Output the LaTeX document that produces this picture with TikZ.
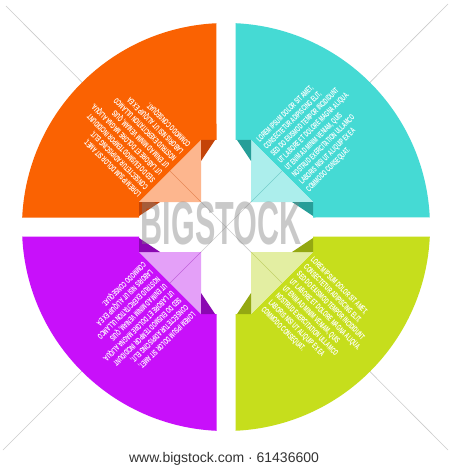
\documentclass[tikz,border=0pt]{standalone}
\usepackage{fontspec}
\setmainfont{Liberation Sans}
\newfontfamily\condfont[FakeStretch=0.58]{Liberation Sans}
\newfontfamily\markfont[FakeStretch=0.5]{Liberation Sans}
\usepackage{tikz}
\definecolor[named]{myColorOrange}{RGB}{250,98,2}
\definecolor[named]{myColorOrangeLight}{RGB}{253,182,142}
\definecolor[named]{myColorOrangeDark}{RGB}{196,68,8}
\definecolor[named]{myColorTeal}{RGB}{69,218,212}
\definecolor[named]{myColorTealLight}{RGB}{172,238,236}
\definecolor[named]{myColorTealDark}{RGB}{38,158,152}
\definecolor[named]{myColorPurple}{RGB}{200,16,250}
\definecolor[named]{myColorPurpleLight}{RGB}{228,160,248}
\definecolor[named]{myColorPurpleDark}{RGB}{138,8,178}
\definecolor[named]{myColorLime}{RGB}{198,222,28}
\definecolor[named]{myColorLimeLight}{RGB}{227,238,162}
\definecolor[named]{myColorLimeDark}{RGB}{148,168,18}
\newcommand{\loremlines}{LOREM IPSUM DOLOR SIT AMET,\\CONSECTETUR ADIPISCING ELIT,\\SED DO EIUSMOD TEMPOR INCIDIDUNT\\UT LABORE ET DOLORE MAGNA ALIQUA.\\UT ENIM AD MINIM VENIAM, QUIS\\NOSTRUD EXERCITATION ULLAMCO\\LABORIS NISI UT ALIQUIP EX EA\\COMMODO CONSEQUAT.}

\begin{document}
\begin{tikzpicture}
[%
    x=1pt,y=-1pt,
    lorem/.style={
      text=white,
      font=\condfont\bfseries\fontsize{8.2}{10}\selectfont,
      align=left,
      inner sep=0pt,
      anchor=west
    },
    crease/.style={
      line width=0.5pt,
      opacity=0.4
    },
    wmline/.style={
      black!20,
      line width=0.6pt
    },
    wmtext/.style={
      text=black!50,
      text opacity=0.42,
      font=\markfont\bfseries\fontsize{61}{61}\selectfont,
      inner sep=0pt
    }
  ]
  \fill[white] (0,0) rectangle (450,470);
  \useasboundingbox (0,0) rectangle (450,470);

  %Watermark lines
  \coordinate (cent) at (226,227);
  \coordinate (tl) at (6,6);
  \coordinate (tr) at (448,4);
  \coordinate (bl) at (3,450);
  \coordinate (br) at (448,450);
  \draw[wmline] (tl) -- (cent);
  \draw[wmline] (tr) -- (cent);
  \draw[wmline] (bl) -- (cent);
  \draw[wmline] (br) -- (cent);

  %Teal
  \begin{scope}[shift={(226,227)},y=1pt]
    \fill[myColorTeal] (9.5,87) -- (9.5,203.8) arc[start angle=87.33,end angle=2.67,radius=204] -- (87,9.5) -- (87,25) -- (25,87) -- cycle;
    \fill[myColorTealLight] (25,87) -- (87,25) -- (25,25) -- cycle;
    \fill[myColorTealDark] (25,87) -- (11,87) -- (25,66) -- cycle;
    \fill[myColorTealDark] (87,25) -- (87,11) -- (66,25) -- cycle;
    \draw[crease,myColorTealDark] (56,56) -- (25,25);
    \node[lorem,rotate=45] (tealtext) at (57,61) {\loremlines};
  \end{scope}

  %Orange
  \begin{scope}[shift={(226,227)},y=1pt,rotate=90]
    \fill[myColorOrange] (9.5,87) -- (9.5,203.8) arc[start angle=87.33,end angle=2.67,radius=204] -- (87,9.5) -- (87,25) -- (25,87) -- cycle;
    \fill[myColorOrangeLight] (25,87) -- (87,25) -- (25,25) -- cycle;
    \fill[myColorOrangeDark] (25,87) -- (11,87) -- (25,66) -- cycle;
    \fill[myColorOrangeDark] (87,25) -- (87,11) -- (66,25) -- cycle;
    \draw[crease,myColorOrangeDark] (56,56) -- (25,25);
    \node[lorem,rotate=135] (orangetext) at (57,61) {\loremlines};
  \end{scope}

  %Purple
  \begin{scope}[shift={(226,227)},y=1pt,rotate=180]
    \fill[myColorPurple] (9.5,87) -- (9.5,203.8) arc[start angle=87.33,end angle=2.67,radius=204] -- (87,9.5) -- (87,25) -- (25,87) -- cycle;
    \fill[myColorPurpleLight] (25,87) -- (87,25) -- (25,25) -- cycle;
    \fill[myColorPurpleDark] (25,87) -- (11,87) -- (25,66) -- cycle;
    \fill[myColorPurpleDark] (87,25) -- (87,11) -- (66,25) -- cycle;
    \draw[crease,myColorPurpleDark] (56,56) -- (25,25);
    \node[lorem,rotate=225] (purpletext) at (57,61) {\loremlines};
  \end{scope}

  %Lime
  \begin{scope}[shift={(226,227)},y=1pt,rotate=270]
    \fill[myColorLime] (9.5,87) -- (9.5,203.8) arc[start angle=87.33,end angle=2.67,radius=204] -- (87,9.5) -- (87,25) -- (25,87) -- cycle;
    \fill[myColorLimeLight] (25,87) -- (87,25) -- (25,25) -- cycle;
    \fill[myColorLimeDark] (25,87) -- (11,87) -- (25,66) -- cycle;
    \fill[myColorLimeDark] (87,25) -- (87,11) -- (66,25) -- cycle;
    \draw[crease,myColorLimeDark] (56,56) -- (25,25);
    \node[lorem,rotate=315] (limetext) at (57,61) {\loremlines};
  \end{scope}

  %Watermark
  \node[wmtext] (mark) at (221,224) {BIGSTOCK};
  \node[font=\fontsize{14}{16}\selectfont,text=black!80] (footer) at (224,459) {www.bigstock.com · 61436600};
\end{tikzpicture}
\end{document}
